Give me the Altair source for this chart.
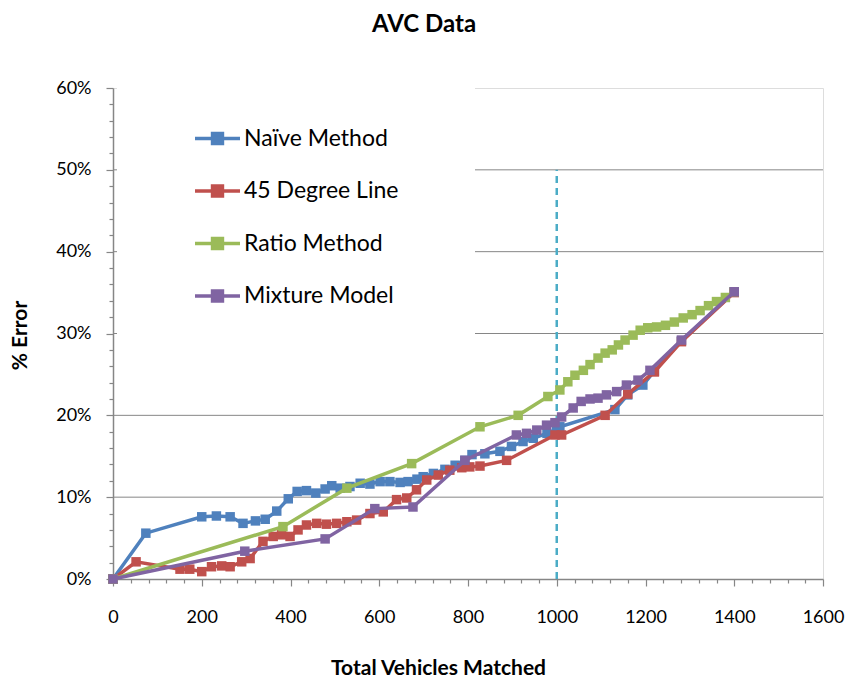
import altair as alt
import pandas as pd

# Series names and Office-style palette
series_names = ["Naïve Method", "45 Degree Line", "Ratio Method", "Mixture Model"]
series_colors = ["#4F81BD", "#C0504D", "#9BBB59", "#8064A2"]

# Naïve Method
naive_x = [0, 74, 200, 233, 264, 293, 321, 343, 369, 395, 415, 436, 457, 478, 493,
           512, 534, 557, 579, 602, 624, 647, 665, 685, 699, 722, 748, 771, 793, 809,
           838, 872, 898, 924, 947, 978, 1000, 1007, 1131, 1160, 1194, 1220, 1281, 1400]
naive_y = [0, 5.6, 7.6, 7.7, 7.6, 6.8, 7.1, 7.3, 8.3, 9.8, 10.7, 10.8, 10.5, 11.0, 11.4,
           11.1, 11.3, 11.7, 11.6, 11.9, 11.9, 11.8, 11.9, 12.2, 12.5, 12.9, 13.4, 13.9, 14.5, 15.2,
           15.3, 15.6, 16.2, 16.8, 17.2, 17.8, 18.2, 18.6, 20.7, 22.5, 23.7, 25.4, 29.1, 35.1]

# 45 Degree Line
line45_x = [0, 52, 151, 173, 200, 222, 245, 264, 290, 309, 338, 361, 380, 399, 417,
            436, 459, 481, 504, 527, 549, 579, 609, 639, 662, 684, 707, 733, 759, 786,
            804, 827, 887, 996, 1011, 1109, 1160, 1220, 1281, 1400]
line45_y = [0, 2.1, 1.2, 1.2, 0.9, 1.5, 1.6, 1.5, 2.1, 2.5, 4.6, 5.2, 5.4, 5.2, 6.0,
            6.6, 6.8, 6.7, 6.8, 7.0, 7.2, 8.0, 8.2, 9.7, 9.9, 10.9, 12.1, 12.7, 13.3, 13.6,
            13.7, 13.8, 14.5, 17.6, 17.6, 20.0, 22.6, 25.3, 29.0, 35.0]

# Ratio Method
ratio_x = [0, 383, 527, 673, 827, 913, 980, 1007, 1025, 1041, 1060, 1075, 1093, 1109,
           1125, 1139, 1154, 1172, 1188, 1205, 1225, 1245, 1265, 1285, 1305, 1323, 1342,
           1360, 1380, 1400]
ratio_y = [0, 6.4, 11.1, 14.1, 18.6, 20.0, 22.3, 23.1, 24.1, 24.9, 25.5, 26.2, 27.0, 27.6,
           28.0, 28.6, 29.2, 29.8, 30.4, 30.7, 30.8, 31.0, 31.4, 31.9, 32.3, 32.8, 33.4,
           33.9, 34.4, 35.1]

# Mixture Model
mixture_x = [0, 297, 478, 590, 676, 793, 909, 932, 955, 977, 996, 1011, 1037, 1055,
             1075, 1093, 1112, 1135, 1157, 1183, 1210, 1281, 1400]
mixture_y = [0, 3.4, 4.9, 8.6, 8.8, 14.5, 17.6, 17.8, 18.2, 18.8, 19.1, 19.8, 20.9, 21.7,
             22.0, 22.1, 22.5, 22.9, 23.7, 24.3, 25.5, 29.2, 35.1]

# Horizontal gridlines and the vertical marker at 1000 vehicles
grid_levels = [10, 20, 30, 40, 50]
marker_x = [1000]
marker_top = [50]

FONT = "Lato"
AXIS_GRAY = "#868686"

frames = []
for name, xs, ys in zip(series_names,
                        [naive_x, line45_x, ratio_x, mixture_x],
                        [naive_y, line45_y, ratio_y, mixture_y]):
    frames.append(pd.DataFrame({"vehicles": xs, "error": ys, "series": name}))
data = pd.concat(frames, ignore_index=True)

x_scale = alt.Scale(domain=[0, 1600], nice=False, zero=True)
y_scale = alt.Scale(domain=[0, 60], nice=False)

# major ticks get labels and longer marks; the rest are minor ticks
x_major = "datum.value % 200 === 0"
y_major = "datum.value % 10 === 0"

x_axis = alt.Axis(
    values=list(range(0, 1601, 40)),
    format="d",
    labelExpr=f"{x_major} ? datum.label : ''",
    labelFontSize={"condition": {"test": x_major, "value": 18}, "value": 1},
    labelOverlap=False, labelFlush=False,
    grid=False,
    domainColor=AXIS_GRAY, domainWidth=1.5,
    tickColor=AXIS_GRAY, tickWidth=1.2,
    tickSize={"condition": {"test": x_major, "value": 7}, "value": 4},
    labelFont=FONT, labelColor="black", labelPadding=22,
    title="Total Vehicles Matched",
    titleFont=FONT, titleFontSize=21, titleFontWeight="bold", titleColor="black",
    titleX=325, titleY=89, titleAlign="center", titleBaseline="middle",
)
y_axis = alt.Axis(
    values=list(range(0, 61, 2)),
    labelExpr=f"{y_major} ? datum.value + '%' : ''",
    labelFontSize={"condition": {"test": y_major, "value": 18}, "value": 1},
    labelOverlap=False, labelFlush=False,
    grid=False,
    domainColor=AXIS_GRAY, domainWidth=1.5,
    tickColor=AXIS_GRAY, tickWidth=1.2,
    tickSize={"condition": {"test": y_major, "value": 7}, "value": 4},
    labelFont=FONT, labelColor="black", labelPadding=15,
    title="% Error",
    titleFont=FONT, titleFontSize=21, titleFontWeight="bold", titleColor="black",
    titleAngle=270, titleX=-93, titleY=247, titleAlign="center", titleBaseline="middle",
)

legend = alt.Legend(
    title=None, orient="none", legendX=4, legendY=-50,
    fillColor="white", padding=76,
    symbolType="M-1,0L1,0M-0.22,-0.22L0.22,-0.22L0.22,0.22L-0.22,0.22Z",
    symbolSize=2025, symbolStrokeWidth=3.5,
    labelFont=FONT, labelFontSize=23, labelColor="black", labelOffset=2,
    rowPadding=15.5,
)
color = alt.Color("series:N", scale=alt.Scale(domain=series_names, range=series_colors),
                  legend=legend, sort=series_names)

grid = alt.Chart(pd.DataFrame({"level": grid_levels})).mark_rule(
    color=AXIS_GRAY, strokeWidth=1
).encode(y=alt.Y("level:Q", scale=y_scale, axis=y_axis))

marker = alt.Chart(pd.DataFrame({"x": marker_x, "top": marker_top, "bottom": [0]})).mark_rule(
    color="#4BACC6", strokeWidth=2.5, strokeDash=[7, 5]
).encode(
    x=alt.X("x:Q", scale=x_scale, axis=x_axis),
    y=alt.Y("bottom:Q", scale=y_scale, axis=y_axis),
    y2="top:Q",
)

series_layers = []
for name in series_names:
    series_layers.append(
        alt.Chart(data).transform_filter(alt.datum.series == name).mark_line(
            strokeWidth=3.5,
            point=alt.OverlayMarkDef(shape="square", filled=True, size=90, opacity=1),
        ).encode(
            x=alt.X("vehicles:Q", scale=x_scale, axis=x_axis),
            y=alt.Y("error:Q", scale=y_scale, axis=y_axis),
            color=color,
            order="vehicles:Q",
        )
    )

chart = alt.layer(grid, marker, *series_layers).properties(
    width=710, height=491,
    padding={"left": 113, "top": 88, "right": 25, "bottom": 105},
    autosize=alt.AutoSizeParams(type="none"),
    title=alt.TitleParams("AVC Data", font=FONT, fontSize=24, fontWeight="bold",
                          color="black", anchor="middle", dx=-44, offset=1),
).configure_view(stroke=None).configure(background="white")

chart.save("out.html", embed_options={"renderer": "svg", "actions": False})
